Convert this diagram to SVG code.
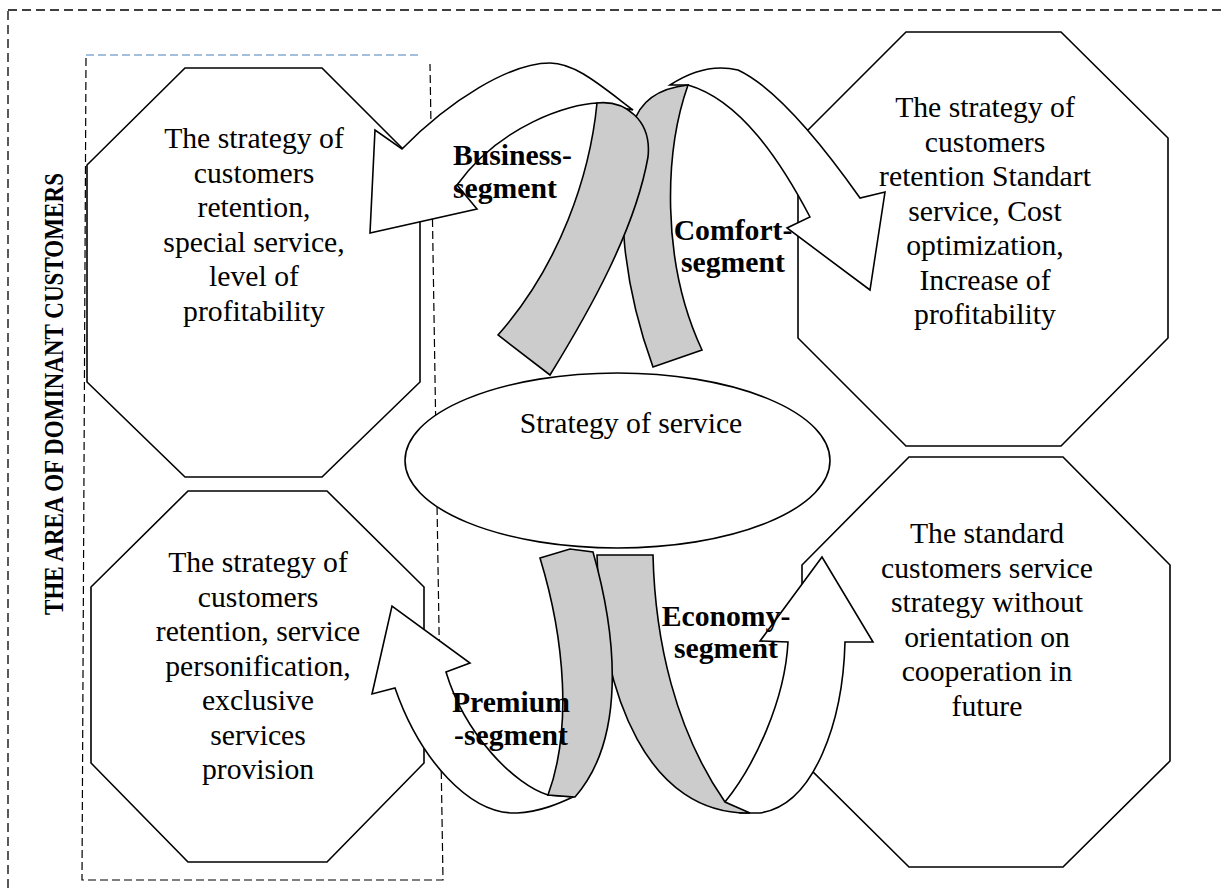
<svg xmlns="http://www.w3.org/2000/svg" width="1223" height="892" viewBox="0 0 1223 892">
<style>
.oct{fill:#fff;stroke:#000;stroke-width:1.6;stroke-linejoin:miter}
.w{fill:#fff;stroke:#000;stroke-width:1.6;stroke-linejoin:miter}
.g{fill:#cccccc;stroke:#000;stroke-width:1.6;stroke-linejoin:miter}
.dash{fill:none;stroke:#000;stroke-width:1.3;stroke-dasharray:9 5}
.dash2{fill:none;stroke:#000;stroke-width:1.2;stroke-dasharray:8 4}
</style>
<rect width="1223" height="892" fill="#fff"/>
<g id="frame">
<rect class="dash" x="8" y="10" width="1240" height="900"/>
<path d="M86,55 L420,55" fill="none" stroke="#4a7ebb" stroke-width="1.2" stroke-dasharray="8 4"/>
<path class="dash2" d="M86,58 L82,880 L443,880 L430,64"/>
</g>
<g id="area-label" font-family="'Liberation Serif','Times New Roman','DejaVu Serif',serif" font-weight="bold" font-size="27" fill="#000">
<text transform="translate(63,394) rotate(-90)" text-anchor="middle" textLength="442" lengthAdjust="spacingAndGlyphs">THE AREA OF DOMINANT CUSTOMERS</text>
</g>
<g id="node-business" font-family="'Liberation Serif','Times New Roman','DejaVu Serif',serif" font-size="29.7" text-anchor="middle" fill="#000">
<polygon class="oct" points="185,68 322,68 420,166 420,382 322,477 185,477 87,382 87,165"/>
<text x="254" y="148">The strategy of</text>
<text x="254" y="182.5">customers</text>
<text x="254" y="217">retention,</text>
<text x="254" y="251.5">special service,</text>
<text x="254" y="286">level of</text>
<text x="254" y="320.5">profitability</text>
</g>
<g id="node-comfort" font-family="'Liberation Serif','Times New Roman','DejaVu Serif',serif" font-size="29.7" text-anchor="middle" fill="#000">
<polygon class="oct" points="906,32 1061,32 1168,138 1168,338 1061,446 906,446 798,338 798,140"/>
<text x="985" y="117">The strategy of</text>
<text x="985" y="151.5">customers</text>
<text x="985" y="186">retention Standart</text>
<text x="985" y="220.5">service, Cost</text>
<text x="985" y="255">optimization,</text>
<text x="985" y="289.5">Increase of</text>
<text x="985" y="324">profitability</text>
</g>
<g id="node-premium" font-family="'Liberation Serif','Times New Roman','DejaVu Serif',serif" font-size="29.7" text-anchor="middle" fill="#000">
<polygon class="oct" points="188,491 327,491 424,587 424,763 327,862 188,862 91,763 91,587"/>
<text x="258" y="572">The strategy of</text>
<text x="258" y="606.5">customers</text>
<text x="258" y="641">retention, service</text>
<text x="258" y="675.5">personification,</text>
<text x="258" y="710">exclusive</text>
<text x="258" y="744.5">services</text>
<text x="258" y="779">provision</text>
</g>
<g id="node-economy" font-family="'Liberation Serif','Times New Roman','DejaVu Serif',serif" font-size="29.7" text-anchor="middle" fill="#000">
<polygon class="oct" points="909,457 1063,457 1170,565 1170,761 1063,867 909,867 802,761 802,565"/>
<text x="987" y="543">The standard</text>
<text x="987" y="577.5">customers service</text>
<text x="987" y="612">strategy without</text>
<text x="987" y="646.5">orientation on</text>
<text x="987" y="681">cooperation in</text>
<text x="987" y="715.5">future</text>
</g>
<g id="connectors">
<path class="w" d="M597,103 C570,104 500,125 457,185 L477,209 L370,233 L375,130 L402,149 C450,100 510,63 550,63 C575,63 600,85 633,110 Z"/>
<path class="w" d="M670,85 Q705,62 738,70 Q785,92 860,198 L885,192 L870,290 L787,228 L810,217 C780,160 740,100 688,85 Z"/>
<path class="g" d="M688,85 C665,150 660,260 702,350 L653,367 C625,290 612,200 633,125 C640,100 660,88 688,85 Z"/>
<path class="g" d="M597,103 C590,175 560,265 498,335 L550,375 C590,310 635,230 648,157 C652,120 625,100 597,103 Z"/>
<path class="w" d="M548,795 C515,785 465,735 446,672 L470,663 L392,606 L372,694 L395,688 C420,760 470,815 517,813 C540,812 560,803 573,797 Z"/>
<path class="w" d="M725,802 C755,765 785,700 788,642 L760,641 L822,557 L873,642 L845,642 C843,720 815,805 760,813 L740,813 Z"/>
<path class="g" d="M597,555 L653,555 C655,640 675,730 725,802 L750,813 C650,815 600,700 597,555 Z"/>
<path class="g" d="M540,558 L570,549 L593,552 C618,640 625,740 575,797 L548,795 C572,730 565,640 540,558 Z"/>
</g>
<g id="node-center" font-family="'Liberation Serif','Times New Roman','DejaVu Serif',serif" font-size="29.7" text-anchor="middle" fill="#000">
<ellipse cx="617.5" cy="460.5" rx="212.5" ry="87.5" fill="#fff" stroke="#000" stroke-width="1.6"/>
<text x="631" y="433">Strategy of service</text>
</g>
<g id="labels" font-family="'Liberation Serif','Times New Roman','DejaVu Serif',serif" font-size="29.7" font-weight="bold" fill="#000">
<text x="453" y="165">Business-</text>
<text x="453" y="198">segment</text>
<text x="733" y="240" text-anchor="middle">Comfort-</text>
<text x="733" y="272" text-anchor="middle">segment</text>
<text x="726" y="626" text-anchor="middle">Economy-</text>
<text x="726" y="658" text-anchor="middle">segment</text>
<text x="511" y="712" text-anchor="middle">Premium</text>
<text x="511" y="745" text-anchor="middle">-segment</text>
</g>
</svg>
